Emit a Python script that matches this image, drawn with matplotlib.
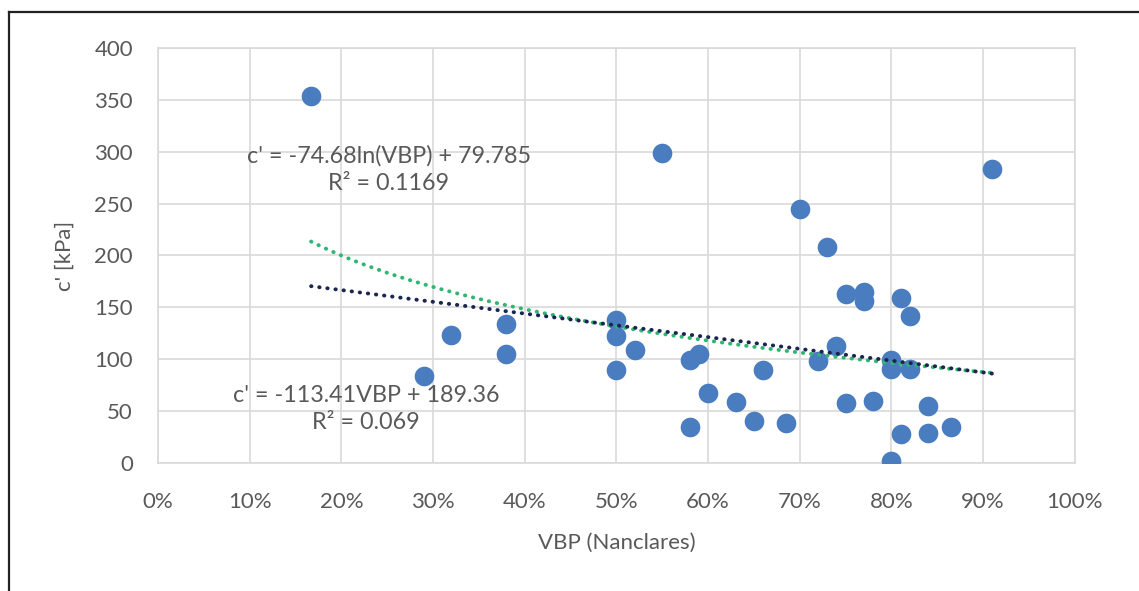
import numpy as np
import matplotlib.pyplot as plt
from matplotlib.lines import Line2D
from matplotlib.ticker import PercentFormatter, MultipleLocator

plt.rcParams['font.family'] = ['Lato', 'DejaVu Sans']

# datos (VBP en fraccion, c' en kPa)
vbp = [0.167, 0.29, 0.32, 0.38, 0.38, 0.50, 0.50, 0.50, 0.52, 0.55,
       0.58, 0.59, 0.58, 0.60, 0.63, 0.65, 0.66, 0.685, 0.70, 0.72,
       0.73, 0.74, 0.75, 0.75, 0.77, 0.77, 0.78, 0.80, 0.80, 0.80,
       0.81, 0.81, 0.82, 0.82, 0.84, 0.84, 0.865, 0.91]
c_kpa = [354, 84, 123, 134, 105, 138, 122, 90, 109, 299,
         99, 105, 35, 67, 59, 40, 90, 39, 245, 98,
         208, 113, 163, 58, 165, 156, 60, 99, 91, 2,
         159, 28, 142, 91, 55, 29, 35, 283]

# lineas de tendencia (ecuaciones mostradas en el grafico)
lin_a, lin_b = -113.41, 189.36
log_a, log_b = -74.68, 79.785

grey = '#595959'
grid_c = '#d9d9d9'

fig = plt.figure(figsize=(11.39, 5.91), dpi=100)
ax = fig.add_axes([0.1387, 0.2166, 0.805, 0.7022])

ax.scatter(vbp, c_kpa, s=200, color='#4a7dc0', zorder=3, linewidths=0)

xt = np.linspace(min(vbp), max(vbp), 200)
ax.plot(xt, log_a * np.log(xt) + log_b, color='#2fb673', lw=2.8,
        linestyle=(0, (0.1, 2.0)), dash_capstyle='round', zorder=4)
ax.plot(xt, lin_a * xt + lin_b, color='#1c2550', lw=2.8,
        linestyle=(0, (0.1, 2.0)), dash_capstyle='round', zorder=5)

ax.set_xlim(0, 1)
ax.set_ylim(0, 400)
ax.xaxis.set_major_locator(MultipleLocator(0.1))
ax.yaxis.set_major_locator(MultipleLocator(50))
ax.xaxis.set_major_formatter(PercentFormatter(1.0, decimals=0))
ax.grid(True, color=grid_c, lw=1.2, zorder=0)
ax.set_axisbelow(True)
for s in ax.spines.values():
    s.set_color(grid_c)
    s.set_linewidth(1.2)
ax.tick_params(length=0, labelsize=16, labelcolor=grey)
ax.tick_params(axis='x', pad=21)
ax.tick_params(axis='y', pad=18)

ax.set_xlabel('VBP (Nanclares)', fontsize=16, color=grey, labelpad=15)
ax.set_ylabel("c' [kPa]", fontsize=16, color=grey, labelpad=14)

# ecuaciones
ax.text(0.252, 283, "c' = -74.68ln(VBP) + 79.785\nR\u00b2 = 0.1169", fontsize=16.8,
        color=grey, ha='center', va='center', linespacing=1.4)
ax.text(0.227, 52, "c' = -113.41VBP + 189.36\nR\u00b2 = 0.069", fontsize=16.8,
        color=grey, ha='center', va='center', linespacing=1.4)

# marco exterior (solo izquierdo y superior visibles)
W, H = 1139, 591
fig.add_artist(Line2D([9 / W, 9 / W], [0, 1 - 12 / H], color='#222222', lw=1.6))
fig.add_artist(Line2D([9 / W, 1], [1 - 12 / H, 1 - 12 / H], color='#222222', lw=1.6))

fig.savefig('out.png', dpi=100)
